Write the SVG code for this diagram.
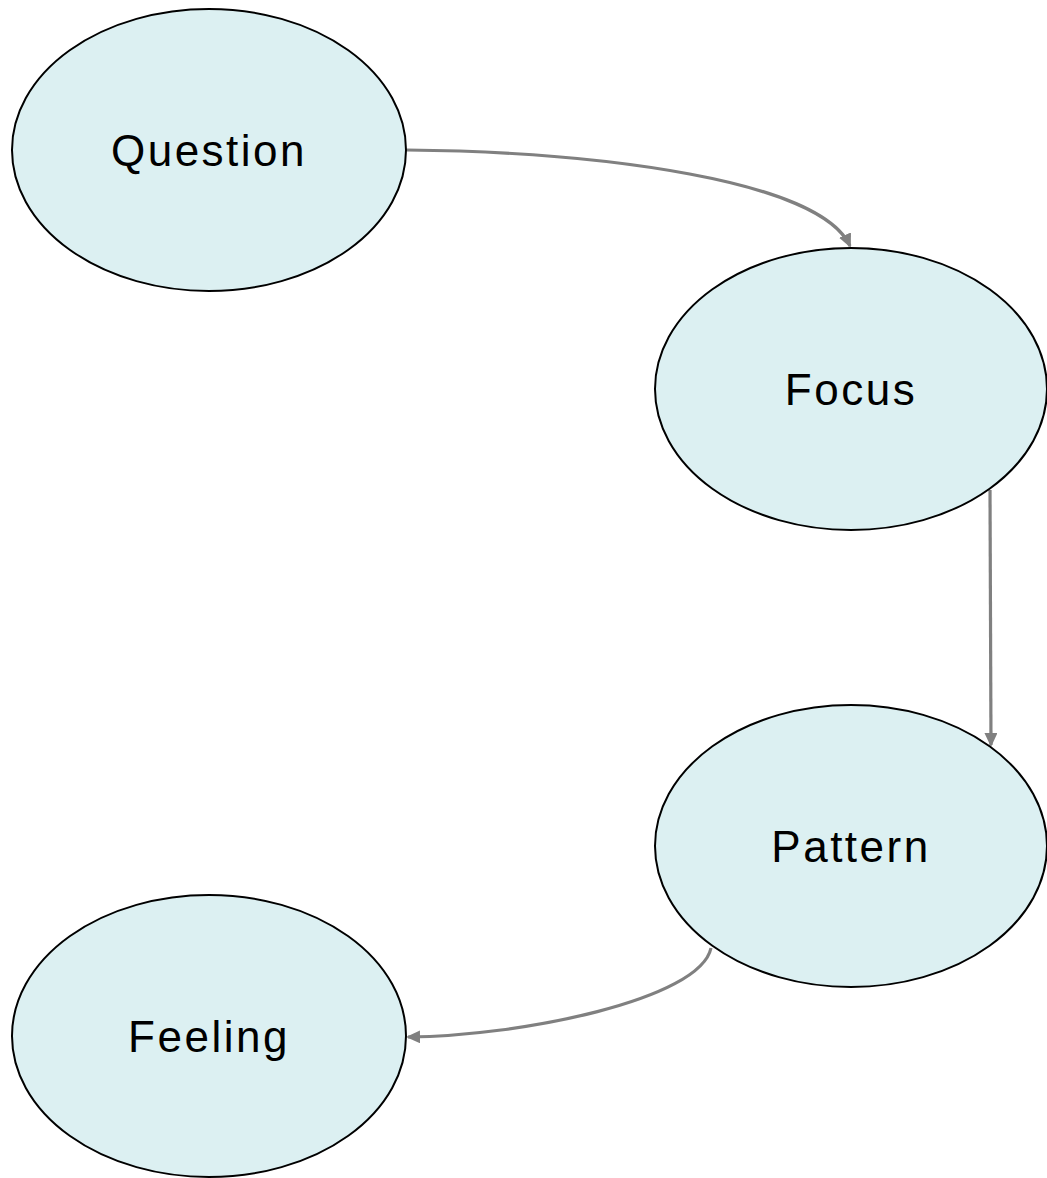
<svg xmlns="http://www.w3.org/2000/svg" width="1047" height="1178" viewBox="0 0 1047 1178">
<style>
.node ellipse{fill:#dcf0f2;stroke:#000;stroke-width:2}
.node text{font-family:"Liberation Sans","DejaVu Sans",sans-serif;font-size:44px;fill:#000;text-anchor:middle;dominant-baseline:central;letter-spacing:2.5px}
.edge{fill:none;stroke:#808080;stroke-width:3.2}
</style>
<defs>
<marker id="arr" markerWidth="14" markerHeight="13" refX="12" refY="6.5" orient="auto" markerUnits="userSpaceOnUse" viewBox="0 0 14 13">
<path d="M0,0 L14,6.5 L0,13 z" fill="#808080"/>
</marker>
</defs>
<rect width="1047" height="1178" fill="#fff"/>
<g id="connectors">
<path class="edge" d="M407,150 C600,152 820,180 850,246" marker-end="url(#arr)"/>
<path class="edge" d="M990,490 L991,745" marker-end="url(#arr)"/>
<path class="edge" d="M711,948 C700,1000 520,1036 408,1037" marker-end="url(#arr)"/>
</g>
<g id="question" class="node"><ellipse cx="209" cy="150" rx="197" ry="141"/><text x="209" y="150">Question</text></g>
<g id="focus" class="node"><ellipse cx="851" cy="389" rx="196" ry="141"/><text x="851" y="389">Focus</text></g>
<g id="pattern" class="node"><ellipse cx="851" cy="846" rx="196" ry="141"/><text x="851" y="846">Pattern</text></g>
<g id="feeling" class="node"><ellipse cx="209" cy="1036" rx="197" ry="141"/><text x="209" y="1036">Feeling</text></g>
</svg>
